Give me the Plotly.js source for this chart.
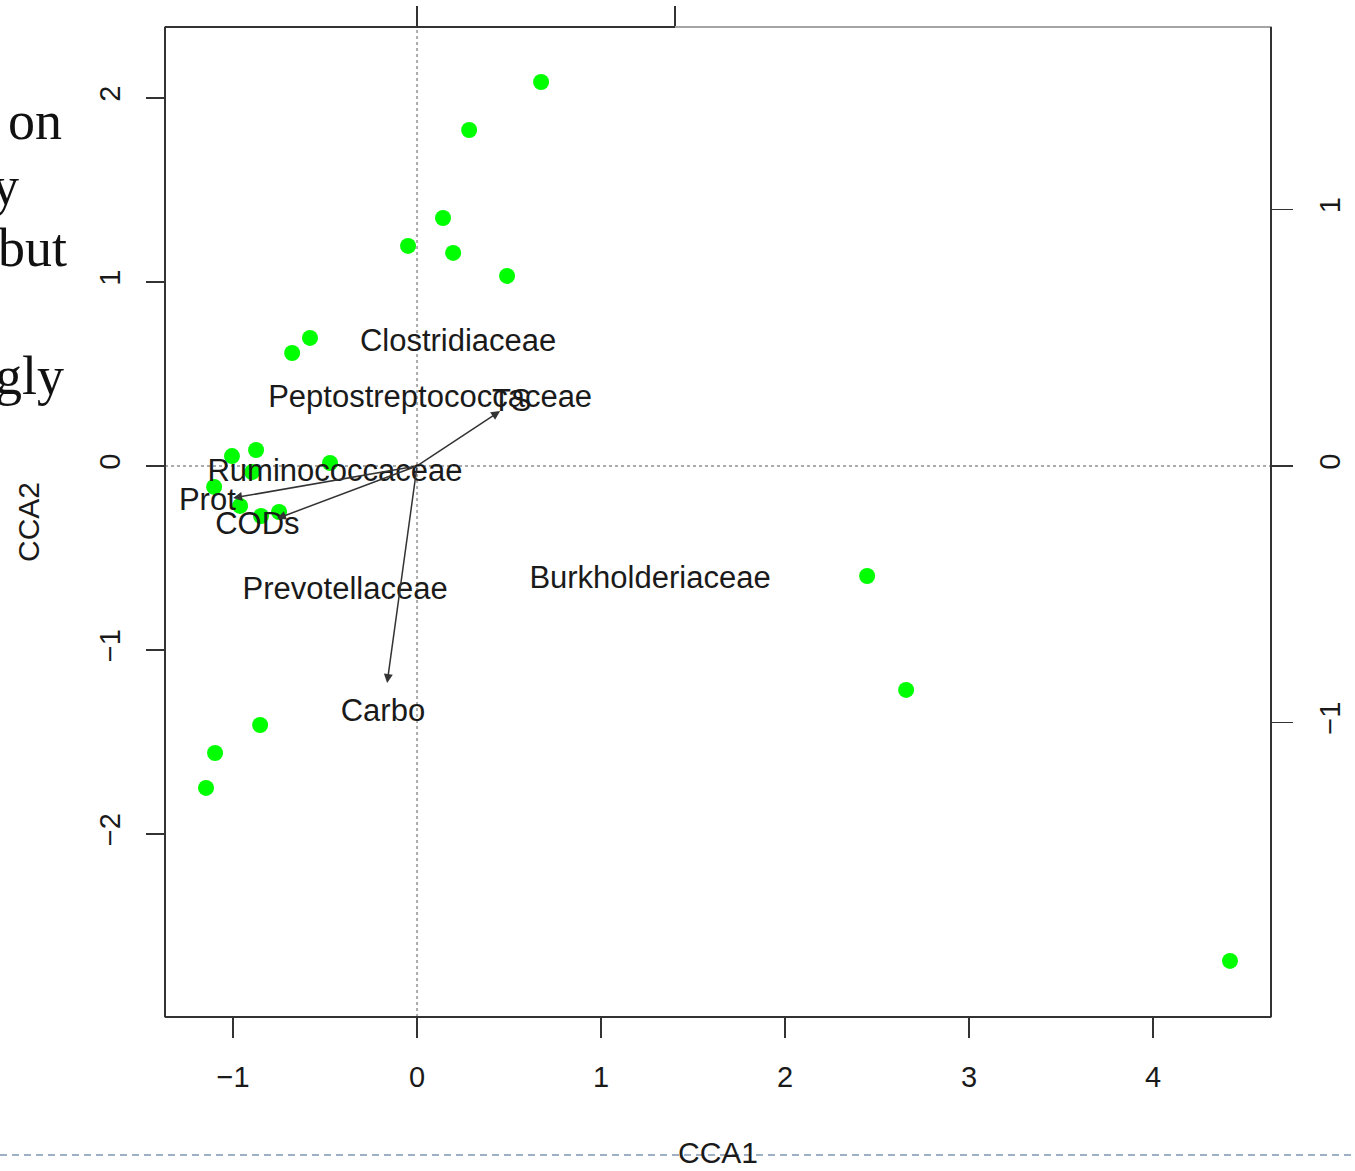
<!DOCTYPE html>
<html>
<head>
<meta charset="utf-8">
<script src="https://cdn.plot.ly/plotly-3.0.1.min.js"></script>
<style>
html,body{margin:0;padding:0;background:#fff;}
#chart{width:1355px;height:1171px;}
</style>
</head>
<body>
<div id="chart"></div>
<script>
// Site scores (CCA1, CCA2)
const siteX = [0.674, 0.283, 0.141, -0.049, 0.196, 0.489, -0.582, -0.679, -1.006, -0.875, -0.473, -0.897, -1.103, -0.962, -0.848, -0.750, 2.446, 2.658, -0.853, -1.098, -1.147, 4.418];
const siteY = [2.087, 1.826, 1.348, 1.196, 1.158, 1.033, 0.696, 0.614, 0.054, 0.087, 0.016, -0.033, -0.114, -0.217, -0.272, -0.250, -0.598, -1.217, -1.408, -1.560, -1.750, -2.690];

// Species scores (labels)
const speciesNames = ["Clostridiaceae", "Peptostreptococcaceae", "Ruminococcaceae", "Prevotellaceae", "Burkholderiaceae"];
const speciesX = [0.223, 0.071, -0.446, -0.391, 1.266];
const speciesY = [0.668, 0.364, -0.038, -0.679, -0.620];

// Environmental biplot arrows (top/right axis scale)
const envNames = ["TS", "Prot", "CODs", "Carbo"];
const envX = [0.322, -0.713, -0.543, -0.116];
const envY = [0.214, -0.125, -0.205, -0.846];

// Tick values
const xTicks = [-1, 0, 1, 2, 3, 4];
const yTicks = [-2, -1, 0, 1, 2];
const x2Ticks = [0, 1];
const y2Ticks = [-1, 0, 1];

// Slide text fragments at left edge
const slideText = ["on", "y", "but", ".", "gly"];
const slideRight = [64, 21, 69, 6, 66];
const slideMid = [121, 186, 248, 313, 376];

const W = 1355, H = 1171, L = 165, R = 1271, T = 27, B = 1017;
const px = v => (v - L) / (R - L);
const py = v => (B - v) / (B - T);
const labelFactor = 1.14;

const FONT = "Liberation Sans, Arial, sans-serif";

const traces = [
  {
    x: siteX, y: siteY, type: "scatter", mode: "markers",
    marker: {color: "#00ff00", size: 16, line: {width: 0}},
    hoverinfo: "x+y", showlegend: false, xaxis: "x", yaxis: "y"
  },
  {
    x: speciesX, y: speciesY, text: speciesNames, type: "scatter", mode: "text",
    textposition: "middle center",
    textfont: {family: FONT, size: 31, color: "#1a1a1a"},
    showlegend: false, xaxis: "x", yaxis: "y", cliponaxis: false
  },
  {
    x: envX.map(v => v * labelFactor), y: envY.map(v => v * labelFactor), text: envNames,
    type: "scatter", mode: "text", textposition: "middle center",
    textfont: {family: FONT, size: 31, color: "#1a1a1a"},
    showlegend: false, xaxis: "x2", yaxis: "y2", cliponaxis: false
  }
];

const annotations = envNames.map((n, i) => ({
  x: envX[i], y: envY[i], xref: "x2", yref: "y2",
  ax: 0, ay: 0, axref: "x2", ayref: "y2",
  text: "", showarrow: true, arrowhead: 2, arrowsize: 1.2, arrowwidth: 1.5, arrowcolor: "#333"
}));

slideText.forEach((t, i) => {
  annotations.push({
    text: t, xref: "paper", yref: "paper",
    x: px(slideRight[i]), y: py(slideMid[i]), xanchor: "right", yanchor: "middle",
    showarrow: false,
    font: {family: "Liberation Serif, DejaVu Serif, serif", size: 54, color: "#111"}
  });
});

const axisBase = {
  showgrid: false, zeroline: false, showline: false,
  ticks: "outside", tickwidth: 1.5, tickcolor: "#333",
  tickfont: {family: FONT, size: 29, color: "#1a1a1a"}
};

const layout = {
  width: W, height: H,
  margin: {l: L, r: W - R, t: T, b: H - B},
  paper_bgcolor: "#fff", plot_bgcolor: "#fff",
  showlegend: false,
  xaxis: Object.assign({}, axisBase, {
    range: [-1.370, 4.641], tickmode: "array", tickvals: xTicks, ticklen: 20,
    ticklabelstandoff: 14,
    title: {text: "CCA1", font: {family: FONT, size: 30, color: "#1a1a1a"}, standoff: 50}
  }),
  yaxis: Object.assign({}, axisBase, {
    range: [-2.995, 2.386], tickmode: "array", tickvals: yTicks, ticklen: 18,
    tickangle: -90, ticklabelstandoff: 14,
    title: {text: "CCA2", font: {family: FONT, size: 30, color: "#1a1a1a"}, standoff: 45}
  }),
  xaxis2: Object.assign({}, axisBase, {
    overlaying: "x", side: "top", anchor: "y",
    range: [-0.977, 3.310], tickmode: "array", tickvals: x2Ticks, ticklen: 20,
    showticklabels: false
  }),
  yaxis2: Object.assign({}, axisBase, {
    overlaying: "y", side: "right", anchor: "x",
    range: [-2.148, 1.711], tickmode: "array", tickvals: y2Ticks, ticklen: 21,
    tickangle: -90, ticklabelstandoff: 12
  }),
  shapes: [
    {type: "line", xref: "x", yref: "paper", x0: 0, x1: 0, y0: 0, y1: 1,
     line: {color: "#ababab", width: 2, dash: "dot"}, layer: "below"},
    {type: "line", xref: "paper", yref: "y", x0: 0, x1: 1, y0: 0, y1: 0,
     line: {color: "#ababab", width: 2, dash: "dot"}, layer: "below"},
    {type: "rect", xref: "paper", yref: "paper", x0: 0, x1: 1, y0: 0, y1: 1,
     line: {color: "#888", width: 1.5}, layer: "above"},
    {type: "line", xref: "paper", yref: "paper", x0: 0, x1: 0, y0: 0, y1: 1,
     line: {color: "#333", width: 2}, layer: "above"},
    {type: "line", xref: "paper", yref: "paper", x0: 0, x1: 1, y0: 0, y1: 0,
     line: {color: "#333", width: 2}, layer: "above"},
    {type: "line", xref: "paper", yref: "paper", x0: 1, x1: 1, y0: 0, y1: 1,
     line: {color: "#333", width: 2}, layer: "above"},
    {type: "line", xref: "paper", yref: "paper", x0: 0, x1: px(675), y0: 1, y1: 1,
     line: {color: "#333", width: 2}, layer: "above"},
    {type: "line", xref: "paper", yref: "paper", x0: px(0), x1: px(W), y0: py(1155), y1: py(1155),
     line: {color: "#9db0c4", width: 2, dash: "7px,5px"}, layer: "below"}
  ],
  annotations: annotations
};

Plotly.newPlot("chart", traces, layout, {displayModeBar: false, staticPlot: true});
</script>
</body>
</html>
